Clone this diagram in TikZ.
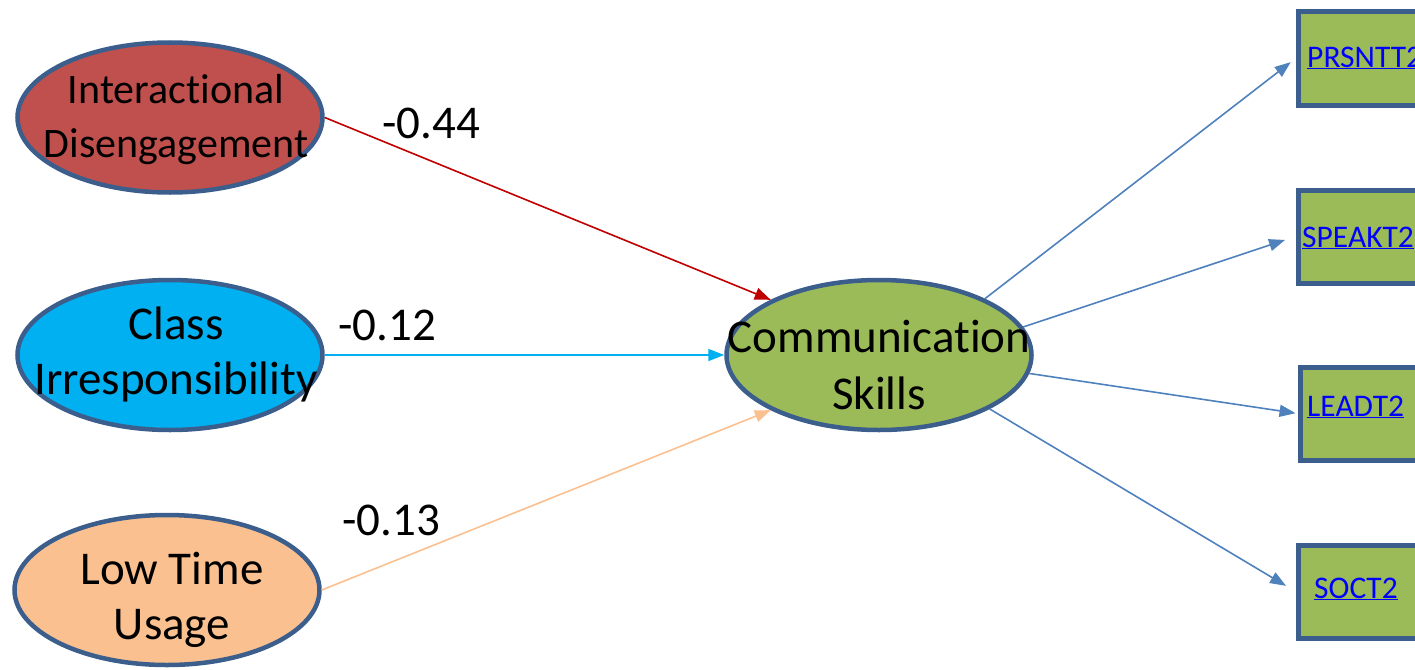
\documentclass[tikz,border=0pt]{standalone}
\usepackage{fontspec}
\setmainfont{Carlito}[Ligatures=NoCommon]
\usetikzlibrary{shapes.geometric,arrows.meta}
\definecolor{outline}{HTML}{3B5E8C}
\definecolor{redfill}{HTML}{C0504D}
\definecolor{cyanfill}{HTML}{00B0F0}
\definecolor{peachfill}{HTML}{FAC090}
\definecolor{greenfill}{HTML}{9BBB59}
\definecolor{redline}{HTML}{C00000}
\definecolor{cyanline}{HTML}{00B0F0}
\definecolor{peachline}{HTML}{FAC090}
\definecolor{blueline}{HTML}{4F81BD}
\definecolor{linkblue}{HTML}{0000FF}
\begin{document}
\begin{tikzpicture}[x=1pt,y=-1pt,
  latent/.style={ellipse,draw=outline,line width=4.5pt,minimum width=305pt,
    minimum height=150pt,inner sep=0pt},
  bigtext/.style={align=center,font=\fontsize{47}{55}\selectfont,inner sep=0pt},
  indicator/.style={rectangle,draw=outline,line width=5pt,fill=greenfill,
    minimum width=160pt,minimum height=93pt,anchor=west,inner sep=0pt},
  coef/.style={anchor=base west,font=\fontsize{47}{55}\selectfont,inner sep=0pt},
  link/.style={anchor=base west,font=\fontsize{31.5}{36}\selectfont,text=linkblue,inner sep=0pt},
  regline/.style={line width=1.6pt,-{Triangle[length=16pt,width=12pt]}},
  loadline/.style={regline,draw=blueline,fill=blueline}]
\clip (0,0) rectangle (1415,669);

% exogenous factors
\node[latent,fill=redfill] (id) at (170,117.5) {};
\node[bigtext,font=\fontsize{42}{54}\selectfont,xshift=6pt,yshift=-2pt] (idtxt) at (id.center)
  {Interactional\\Disengagement};
\node[latent,fill=cyanfill] (ci) at (170,355) {};
\node[bigtext,xshift=6pt,yshift=1pt] (citxt) at (ci.center) {Class\\Irresponsibility};
\node[latent,fill=peachfill] (lt) at (167,590) {};
\node[bigtext,xshift=5pt,yshift=-10pt] (lttxt) at (lt.center) {Low Time\\Usage};

% endogenous factor
\node[latent,fill=greenfill] (cs) at (879,355) {};
\node[bigtext,font=\fontsize{47}{57}\selectfont,yshift=-10pt] (cstxt) at (cs.center)
  {Communication\\Skills};

% indicators
\node[indicator] (p1) at (1295.5,58.5) {};
\node[indicator] (p2) at (1295.5,236.5) {};
\node[indicator] (p3) at (1297.5,413.5) {};
\node[indicator] (p4) at (1295.5,591.5) {};
\node[link] (p1txt) at (1307,67) {\underline{PRSNTT2}};
\node[link] (p2txt) at (1302,247) {\underline{SPEAKT2}};
\node[link] (p3txt) at (1307,416) {\underline{LEADT2}};
\node[link] (p4txt) at (1314,598) {\underline{SOCT2}};

% structural paths
\draw[regline,draw=redline,fill=redline] (id.east) -- (cs.153);
\draw[regline,draw=cyanline,fill=cyanline] (ci.east) -- (cs.west);
\draw[regline,draw=peachline,fill=peachline] (lt.east) -- (cs.207);

% path coefficients
\node[coef] (c1) at (382,138) {-0.44};
\node[coef] (c2) at (338,340) {-0.12};
\node[coef] (c3) at (342,535) {-0.13};

% measurement paths
\draw[loadline,shorten >=6pt] (cs.28) -- (p1.west);
\draw[loadline,shorten >=11pt] (cs.11) -- (p2.west);
\draw[loadline,shorten >=2pt] (cs.353) -- (p3.west);
\draw[loadline,shorten >=11pt] (cs.334) -- (p4.west);
\end{tikzpicture}
\end{document}
